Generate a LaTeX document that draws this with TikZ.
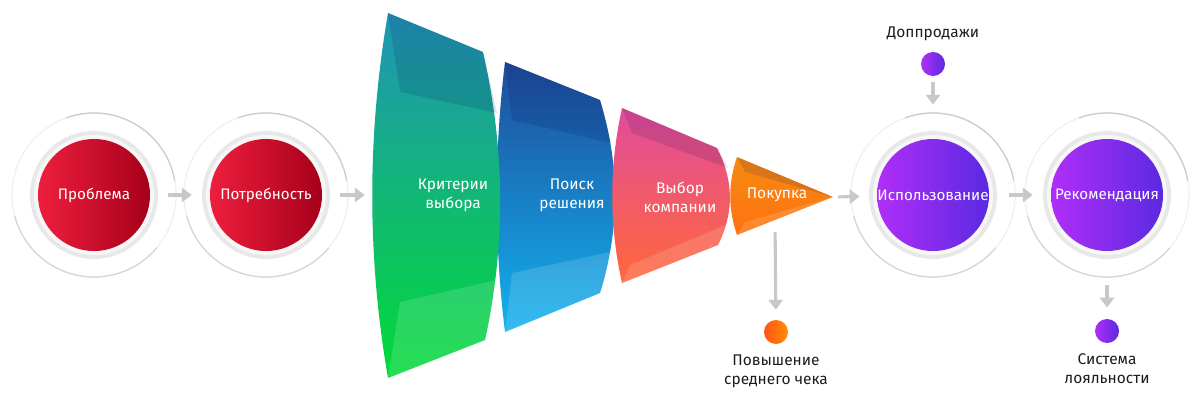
\documentclass[tikz,border=0pt]{standalone}
\usepackage{fontspec}
\setmainfont{Fira Sans}
\usetikzlibrary{arrows.meta, calc, positioning}
\definecolor{redA}{HTML}{EE1E3E}
\definecolor{redB}{HTML}{A6001A}
\definecolor{vioA}{HTML}{B02EF8}
\definecolor{vioB}{HTML}{5A2AE0}
\definecolor{orgA}{HTML}{FF5414}
\definecolor{orgB}{HTML}{FF8C08}
\definecolor{arr}{HTML}{C8C8C8}
\definecolor{ink}{HTML}{1C1C1C}
\definecolor{grnT}{HTML}{2194B6}
\definecolor{grnM}{HTML}{12B68A}
\definecolor{grnB}{HTML}{02DA36}
\definecolor{bluT}{HTML}{1F4C9A}
\definecolor{bluM}{HTML}{1878C8}
\definecolor{bluB}{HTML}{12B2EE}
\definecolor{pnkT}{HTML}{E24C9C}
\definecolor{pnkM}{HTML}{FF5A84}
\definecolor{pnkB}{HTML}{FF683A}
\definecolor{ornT}{HTML}{F68A12}
\definecolor{ornB}{HTML}{FF7210}

\begin{document}
\begin{tikzpicture}[x=0.025cm, y=-0.025cm,
    font=\fontsize{10.8}{13}\selectfont,
    node distance=4pt,
    halo/.style={circle, minimum size=4.2cm, inner sep=0pt,
      path picture={
        \draw[black!6, line width=0.9pt] (path picture bounding box.center) circle[radius=2.05cm];
        \draw[black!20, line width=0.9pt] ([shift={(110:2.05cm)}]path picture bounding box.center)
          arc[start angle=110, end angle=10, radius=2.05cm];
        \draw[black!16, line width=0.9pt] ([shift={(195:2.05cm)}]path picture bounding box.center)
          arc[start angle=195, end angle=320, radius=2.05cm];
      }},
    ball/.style={circle, minimum size=2.8cm, inner sep=0pt, text=white,
                 preaction={draw=black!9, line width=0.4cm},
                 preaction={draw=black!3, line width=0.2cm}},
    redball/.style={ball, left color=redA, right color=redB},
    vioball/.style={ball, left color=vioA, right color=vioB},
    dot/.style={circle, minimum size=0.6cm, inner sep=0pt},
    lbl/.style={text=white, align=center, font=\fontsize{11}{13.5}\selectfont},
    note/.style={text=ink, align=center, font=\fontsize{11}{13.5}\selectfont},
    flow/.style={-{Triangle[length=7pt, width=10pt]}, draw=arr, line width=2.2pt},
    topface/.style={fill=black!70!blue, opacity=0.12},
    lowface/.style={fill=white, opacity=0.14},
]
\useasboundingbox (0,0) rectangle (1200,400);

\node[halo] (h1) at (94,195) {};
\node[redball] (prob) at (h1) {Проблема};
\node[halo] (h2) at (266,195) {};
\node[redball] (need) at (h2) {Потребность};
\node[halo] (h3) at (933,195) {};
\node[vioball] (use) at (h3) {Использование};
\node[halo] (h4) at (1107,195) {};
\node[vioball] (rec) at (h4) {Рекомендация};

\path[top color=bluT, middle color=bluM, bottom color=bluB]
  (505,62) -- (600,100) .. controls (620,165) and (620,229) .. (600,293) -- (505,332)
  .. controls (494,242) and (494,152) .. (505,62) -- cycle;
\path[topface] (505,62) -- (600,100) -- (611,143) -- (512,120) -- cycle;
\path[lowface] (512,273) -- (611,252) -- (600,293) -- (505,332) -- cycle;

\path[top color=grnT, middle color=grnM, bottom color=grnB]
  (388,13) -- (483,52) .. controls (505,148) and (506,244) .. (485,340) -- (388,378)
  .. controls (367,257) and (367,135) .. (388,13) -- cycle;
\path[topface] (388,13) -- (483,52) -- (497,113) -- (400,92) -- cycle;
\path[lowface] (400,302) -- (497,280) -- (485,340) -- (388,378) -- cycle;

\path[top color=pnkT, middle color=pnkM, bottom color=pnkB]
  (622,108) -- (717,148) .. controls (734,181) and (734,213) .. (718,245) -- (622,283)
  .. controls (609,225) and (609,167) .. (622,108) -- cycle;
\path[topface] (622,108) -- (717,148) -- (728,168) -- (632,133) -- cycle;
\path[lowface] (630,265) -- (726,225) -- (718,245) -- (622,283) -- cycle;

\path[top color=ornT, bottom color=ornB]
  (737,157) -- (833,197) -- (737,235) .. controls (728,209) and (728,183) .. (737,157) -- cycle;
\path[topface] (737,157) -- (833,197) -- (745,172) -- cycle;
\path[lowface] (737,235) -- (833,197) -- (745,222) -- cycle;

\node[lbl] (crit) at (453,195) {Критерии\\выбора};
\node[lbl] (search) at (572,195) {Поиск\\решения};
\node[lbl] (firm) at (680,197) {Выбор\\компании};
\node[lbl] (buy) at (777,195) {Покупка};

\coordinate (critL) at (372,195);
\coordinate (buyT) at (833,197);
\coordinate (buyB) at (775,220);

\node[dot, left color=vioA, right color=vioB] (upsell) at (933,64) {};
\node[note, above=of upsell] (upsellT) {Доппродажи};
\node[dot, left color=orgA, right color=orgB] (avg) at (776,332) {};
\node[note, below=of avg] (avgT) {Повышение\\среднего чека};
\node[dot, left color=vioA, right color=vioB] (loyal) at (1107,331) {};
\node[note, below=of loyal] (loyalT) {Система\\лояльности};

\draw[flow, shorten <=0.45cm, shorten >=0.45cm] (prob) -- (need);
\draw[flow, shorten <=0.45cm, shorten >=0.18cm] (need) -- (critL);
\draw[flow, shorten <=0.13cm, shorten >=0.43cm] (buyT) -- (use);
\draw[flow, shorten <=0.5cm, shorten >=0.45cm] (use) -- (rec);
\draw[flow, shorten <=0.15cm, shorten >=0.85cm] (upsell) -- (use);
\draw[flow, shorten <=0.85cm, shorten >=0.28cm] (rec) -- (loyal);
\draw[flow, shorten <=0.3cm, shorten >=0.25cm] (buyB) -- (avg);
\end{tikzpicture}
\end{document}
